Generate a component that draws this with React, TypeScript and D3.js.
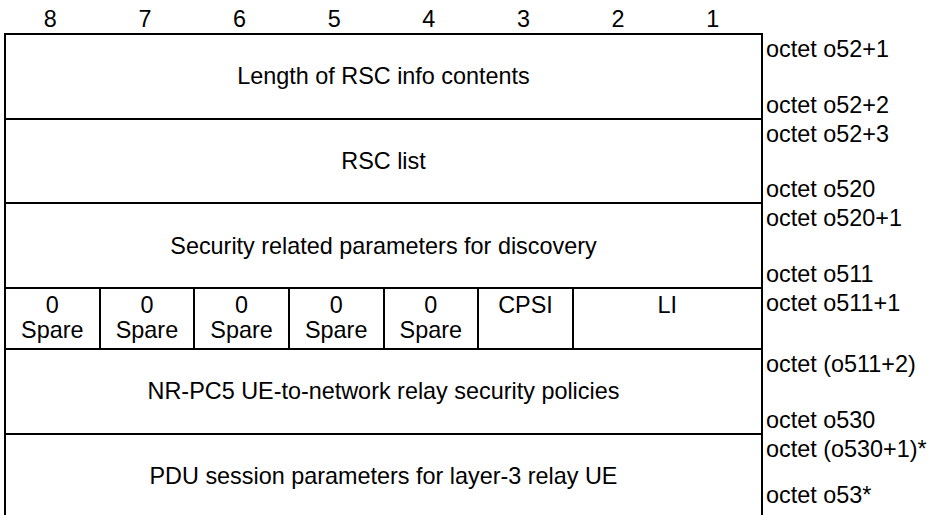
import { useMemo } from 'react';
import * as d3 from 'd3';

// bit positions across the top
const BIT_NUMBERS = [8, 7, 6, 5, 4, 3, 2, 1];

// one entry per row of the IE layout
const ROW_TEXT = [
  'Length of RSC info contents',
  'RSC list',
  'Security related parameters for discovery',
  null,
  'NR-PC5 UE-to-network relay security policies',
  'PDU session parameters for layer-3 relay UE',
];
const OCTET_FIRST = [
  'octet o52+1',
  'octet o52+3',
  'octet o520+1',
  'octet o511+1',
  'octet (o511+2)',
  'octet (o530+1)*',
];
const OCTET_LAST = [
  'octet o52+2',
  'octet o520',
  'octet o511',
  null,
  'octet o530',
  'octet o53*',
];

// the single-octet row, split by bits
const BIT_FIELD_TOP = ['0', '0', '0', '0', '0', 'CPSI', 'LI'];
const BIT_FIELD_BOTTOM = ['Spare', 'Spare', 'Spare', 'Spare', 'Spare', '', ''];
const BIT_FIELD_SPAN = [1, 1, 1, 1, 1, 1, 2];

const W = 930;
const H = 515;
const LEFT = 5;
const RIGHT = 762;
const TOP = 34;
const FIELD_H = 84.7;
const BIT_ROW_H = 61;
const FONT = '"Liberation Sans", Arial, sans-serif';
const FS = 23.4;

export default function App() {
  const x = useMemo(
    () =>
      d3
        .scaleBand<number>()
        .domain(BIT_NUMBERS)
        .range([LEFT, RIGHT]),
    [],
  );

  const rowTops = useMemo(() => {
    const tops: number[] = [];
    let y = TOP;
    ROW_TEXT.forEach((t) => {
      tops.push(y);
      y += t === null ? BIT_ROW_H : FIELD_H;
    });
    return tops;
  }, []);

  const rowHeight = (i: number) => (ROW_TEXT[i] === null ? BIT_ROW_H : FIELD_H);
  const cx = (LEFT + RIGHT) / 2;
  const step = x.step();

  // start bit index of each field in the bit row
  const fieldStarts = BIT_FIELD_SPAN.reduce<number[]>((acc, s, i) => {
    acc.push(i === 0 ? 0 : acc[i - 1] + BIT_FIELD_SPAN[i - 1]);
    return acc;
  }, []);

  return (
    <svg
      width={W}
      height={H}
      style={{ position: 'absolute', left: 0, top: 0, background: '#fff' }}
      fontFamily={FONT}
      fontSize={FS}
    >
      <rect width={W} height={H} fill="#fff" />

      {BIT_NUMBERS.map((b) => (
        <text
          key={b}
          x={(x(b) ?? 0) + step / 2 - 2}
          y={27}
          textAnchor="middle"
          fill="#000"
        >
          {b}
        </text>
      ))}

      <g stroke="#000" strokeWidth={2} shapeRendering="crispEdges">
        <line x1={LEFT} x2={LEFT} y1={TOP - 1} y2={H + 5} />
        <line x1={RIGHT} x2={RIGHT} y1={TOP - 1} y2={H + 5} />
        {rowTops.map((t, i) => (
          <line key={i} x1={LEFT - 1} x2={RIGHT} y1={t} y2={t} />
        ))}
        {rowTops.map((t, i) =>
          ROW_TEXT[i] === null
            ? fieldStarts.slice(1).map((s) => (
                <line
                  key={`v${s}`}
                  x1={x(BIT_NUMBERS[s]) ?? 0}
                  x2={x(BIT_NUMBERS[s]) ?? 0}
                  y1={t}
                  y2={t + rowHeight(i)}
                />
              ))
            : null,
        )}
      </g>

      {rowTops.map((t, i) => {
        const h = rowHeight(i);
        const text = ROW_TEXT[i];
        return (
          <g key={`r${i}`} fill="#000">
            {text !== null ? (
              <text x={cx} y={t + h / 2 + 8} textAnchor="middle">
                {text}
              </text>
            ) : (
              fieldStarts.map((s, k) => {
                const x0 = x(BIT_NUMBERS[s]) ?? 0;
                const fx = x0 + (step * BIT_FIELD_SPAN[k]) / 2;
                return (
                  <g key={k}>
                    <text x={fx} y={t + 25} textAnchor="middle">
                      {BIT_FIELD_TOP[k]}
                    </text>
                    {BIT_FIELD_BOTTOM[k] && (
                      <text x={fx} y={t + 50} textAnchor="middle">
                        {BIT_FIELD_BOTTOM[k]}
                      </text>
                    )}
                  </g>
                );
              })
            )}
            <text x={RIGHT + 4} y={t + 23}>
              {OCTET_FIRST[i]}
            </text>
            {OCTET_LAST[i] && (
              <text x={RIGHT + 4} y={Math.min(t + h - 6, H - 12)}>
                {OCTET_LAST[i]}
              </text>
            )}
          </g>
        );
      })}
    </svg>
  );
}
